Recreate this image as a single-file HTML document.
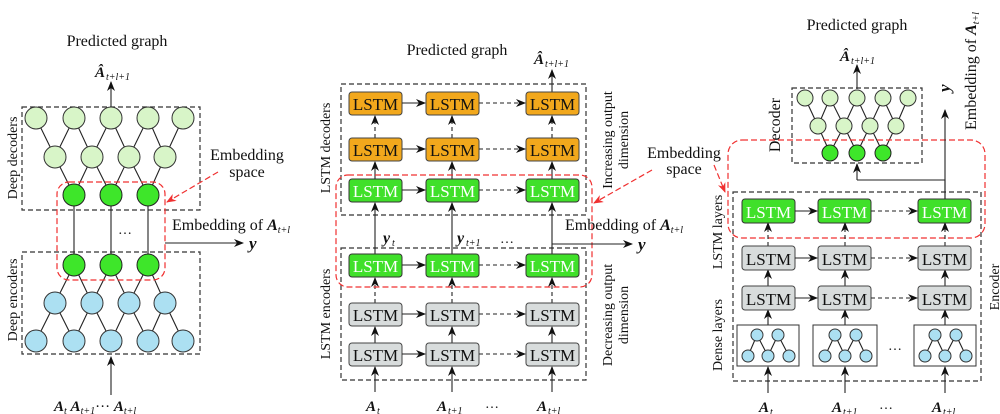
<!DOCTYPE html>
<html><head><meta charset="utf-8"><style>
html,body{margin:0;padding:0;background:#fff}
svg{display:block;font-family:"Liberation Serif","Times New Roman","DejaVu Serif",serif}
svg text{font-family:"Liberation Serif","Times New Roman","DejaVu Serif",serif;fill:#111}
.b{stroke:#333;stroke-width:1.2;fill:none;stroke-dasharray:5,3}
.r{stroke:#f03030;stroke-width:1.2;fill:none;stroke-dasharray:6,3}
.l{stroke:#222;stroke-width:1.1;fill:none}
.ld{stroke:#222;stroke-width:1.1;fill:none;stroke-dasharray:4,3}
.cd{fill:#d8f5c8;stroke:#333;stroke-width:1}
.cg{fill:#3ee62a;stroke:#222;stroke-width:1}
.cb{fill:#ace0f2;stroke:#333;stroke-width:1}
.o{fill:#f2a81c;stroke:#444;stroke-width:1}
.g{fill:#40e02a;stroke:#333;stroke-width:1}
.y{fill:#d8dcdc;stroke:#444;stroke-width:1}
.t{font-size:17px}
svg text.tw{font-size:17px;fill:#fff}
.bi{font-weight:bold;font-style:italic}
</style></head><body>
<svg width="1000" height="414" viewBox="0 0 1000 414" xmlns="http://www.w3.org/2000/svg" font-family="Liberation Serif, serif">
<defs>
<marker id="a" markerWidth="10" markerHeight="8" refX="9" refY="4" orient="auto" markerUnits="userSpaceOnUse"><path d="M0,0 L10,4 L0,8 L3,4 z" fill="#111"/></marker>
<marker id="ar" markerWidth="10" markerHeight="8" refX="9" refY="4" orient="auto" markerUnits="userSpaceOnUse"><path d="M0,0 L10,4 L0,8 L3,4 z" fill="#f03030"/></marker>
</defs>

<!-- ============ PANEL 1 ============ -->
<text x="117" y="46" font-size="16" text-anchor="middle">Predicted graph</text>
<text x="95" y="77" font-size="15" class="bi">Â</text><text x="106" y="80" font-size="10" font-style="italic">t+l+1</text>
<line x1="111" y1="107" x2="111" y2="82" class="l" marker-end="url(#a)"/>
<rect x="22" y="107" width="178" height="103" class="b"/>
<rect x="22" y="252" width="178" height="102" class="b"/>
<g class="l">
<path d="M36,118 L55,157 L74,118 L92,157 L111,118 L129,157 L148,118 L165,157 L183,118"/>
<path d="M55,157 L74,195 L92,157 L111,195 L129,157 L148,195 L165,157"/>
<path d="M74,195 V265 M111,195 V265 M148,195 V265"/>
<path d="M55,303 L74,265 L92,303 L111,265 L129,303 L148,265 L165,303"/>
<path d="M36,341 L55,303 L74,341 L92,303 L111,341 L129,303 L148,341 L165,303 L183,341"/>
</g>
<g class="cd"><circle cx="36" cy="118" r="11"/><circle cx="74" cy="118" r="11"/><circle cx="111" cy="118" r="11"/><circle cx="148" cy="118" r="11"/><circle cx="183" cy="118" r="11"/>
<circle cx="55" cy="157" r="11"/><circle cx="92" cy="157" r="11"/><circle cx="129" cy="157" r="11"/><circle cx="165" cy="157" r="11"/></g>
<g class="cg"><circle cx="74" cy="195" r="11"/><circle cx="111" cy="195" r="11"/><circle cx="148" cy="195" r="11"/>
<circle cx="74" cy="265" r="11"/><circle cx="111" cy="265" r="11"/><circle cx="148" cy="265" r="11"/></g>
<g class="cb"><circle cx="55" cy="303" r="11"/><circle cx="92" cy="303" r="11"/><circle cx="129" cy="303" r="11"/><circle cx="165" cy="303" r="11"/>
<circle cx="36" cy="341" r="11"/><circle cx="74" cy="341" r="11"/><circle cx="111" cy="341" r="11"/><circle cx="148" cy="341" r="11"/><circle cx="183" cy="341" r="11"/></g>
<rect x="57" y="182" width="108" height="98" rx="12" class="r"/>
<text x="125" y="234" font-size="14" text-anchor="middle">…</text>
<text x="247" y="160" font-size="16" text-anchor="middle">Embedding</text>
<text x="247" y="177" font-size="16" text-anchor="middle">space</text>
<line x1="218" y1="172" x2="167" y2="202" class="r" marker-end="url(#ar)"/>
<text x="172" y="230" font-size="16">Embedding of <tspan class="bi">A</tspan><tspan font-size="10" font-style="italic" dy="3">t+l</tspan></text>
<line x1="165" y1="243" x2="243" y2="243" class="l" marker-end="url(#a)"/>
<text x="249" y="249" font-size="17" class="bi">y</text>
<text transform="translate(17,158) rotate(-90)" font-size="14" text-anchor="middle">Deep decoders</text>
<text transform="translate(17,300) rotate(-90)" font-size="14" text-anchor="middle">Deep encoders</text>
<line x1="111" y1="395" x2="111" y2="357" class="l" marker-end="url(#a)"/>
<text x="54" y="411" font-size="15"><tspan class="bi">A</tspan><tspan font-size="10" font-style="italic" dy="3">t</tspan><tspan dy="-3"> </tspan><tspan class="bi">A</tspan><tspan font-size="10" font-style="italic" dy="3">t+1</tspan><tspan dy="-3">··· </tspan><tspan class="bi">A</tspan><tspan font-size="10" font-style="italic" dy="3">t+l</tspan></text>

<!-- ============ PANEL 2 ============ -->
<text x="457" y="55" font-size="16" text-anchor="middle">Predicted graph</text>
<text x="534" y="64" font-size="15" class="bi">Â</text><text x="545" y="67" font-size="10" font-style="italic">t+l+1</text>
<line x1="552" y1="92" x2="552" y2="70" class="l" marker-end="url(#a)"/>
<rect x="341" y="84" width="245" height="131" class="b"/>
<rect x="341" y="248" width="245" height="132" class="b"/>
<g>
<line x1="375" y1="138" x2="375" y2="116" class="ld" marker-end="url(#a)"/>
<line x1="452" y1="138" x2="452" y2="116" class="ld" marker-end="url(#a)"/>
<line x1="552" y1="138" x2="552" y2="116" class="ld" marker-end="url(#a)"/>
<line x1="375" y1="179" x2="375" y2="162" class="l" marker-end="url(#a)"/>
<line x1="452" y1="179" x2="452" y2="162" class="l" marker-end="url(#a)"/>
<line x1="552" y1="179" x2="552" y2="162" class="l" marker-end="url(#a)"/>
<line x1="375" y1="254" x2="375" y2="203" class="l" marker-end="url(#a)"/>
<line x1="452" y1="254" x2="452" y2="203" class="l" marker-end="url(#a)"/>
<line x1="552" y1="254" x2="552" y2="203" class="l" marker-end="url(#a)"/>
<line x1="375" y1="303" x2="375" y2="278" class="ld" marker-end="url(#a)"/>
<line x1="452" y1="303" x2="452" y2="278" class="ld" marker-end="url(#a)"/>
<line x1="552" y1="303" x2="552" y2="278" class="ld" marker-end="url(#a)"/>
<line x1="375" y1="343" x2="375" y2="327" class="l" marker-end="url(#a)"/>
<line x1="452" y1="343" x2="452" y2="327" class="l" marker-end="url(#a)"/>
<line x1="552" y1="343" x2="552" y2="327" class="l" marker-end="url(#a)"/>
<line x1="375" y1="392" x2="375" y2="367" class="l" marker-end="url(#a)"/>
<line x1="452" y1="392" x2="452" y2="367" class="l" marker-end="url(#a)"/>
<line x1="552" y1="392" x2="552" y2="367" class="l" marker-end="url(#a)"/>
</g>
<g>
<rect x="349" y="92" width="53" height="23" rx="3" class="o"/><rect x="426" y="92" width="53" height="23" rx="3" class="o"/><rect x="526" y="92" width="53" height="23" rx="3" class="o"/>
<rect x="349" y="138" width="53" height="23" rx="3" class="o"/><rect x="426" y="138" width="53" height="23" rx="3" class="o"/><rect x="526" y="138" width="53" height="23" rx="3" class="o"/>
<rect x="349" y="179" width="53" height="23" rx="3" class="g"/><rect x="426" y="179" width="53" height="23" rx="3" class="g"/><rect x="526" y="179" width="53" height="23" rx="3" class="g"/>
<rect x="349" y="254" width="53" height="23" rx="3" class="g"/><rect x="426" y="254" width="53" height="23" rx="3" class="g"/><rect x="526" y="254" width="53" height="23" rx="3" class="g"/>
<rect x="349" y="303" width="53" height="23" rx="3" class="y"/><rect x="426" y="303" width="53" height="23" rx="3" class="y"/><rect x="526" y="303" width="53" height="23" rx="3" class="y"/>
<rect x="349" y="343" width="53" height="23" rx="3" class="y"/><rect x="426" y="343" width="53" height="23" rx="3" class="y"/><rect x="526" y="343" width="53" height="23" rx="3" class="y"/>
</g>
<g text-anchor="middle">
<text x="375.5" y="110" class="t">LSTM</text><text x="452.5" y="110" class="t">LSTM</text><text x="552.5" y="110" class="t">LSTM</text>
<text x="375.5" y="156" class="t">LSTM</text><text x="452.5" y="156" class="t">LSTM</text><text x="552.5" y="156" class="t">LSTM</text>
<text x="375.5" y="197" class="tw">LSTM</text><text x="452.5" y="197" class="tw">LSTM</text><text x="552.5" y="197" class="tw">LSTM</text>
<text x="375.5" y="272" class="tw">LSTM</text><text x="452.5" y="272" class="tw">LSTM</text><text x="552.5" y="272" class="tw">LSTM</text>
<text x="375.5" y="321" class="t">LSTM</text><text x="452.5" y="321" class="t">LSTM</text><text x="552.5" y="321" class="t">LSTM</text>
<text x="375.5" y="361" class="t">LSTM</text><text x="452.5" y="361" class="t">LSTM</text><text x="552.5" y="361" class="t">LSTM</text>
</g>
<g>
<line x1="402" y1="103" x2="425" y2="103" class="l" marker-end="url(#a)"/><line x1="479" y1="103" x2="525" y2="103" class="ld" marker-end="url(#a)"/>
<line x1="402" y1="149" x2="425" y2="149" class="l" marker-end="url(#a)"/><line x1="479" y1="149" x2="525" y2="149" class="ld" marker-end="url(#a)"/>
<line x1="402" y1="190" x2="425" y2="190" class="l" marker-end="url(#a)"/><line x1="479" y1="190" x2="525" y2="190" class="ld" marker-end="url(#a)"/>
<line x1="402" y1="265" x2="425" y2="265" class="l" marker-end="url(#a)"/><line x1="479" y1="265" x2="525" y2="265" class="ld" marker-end="url(#a)"/>
<line x1="402" y1="314" x2="425" y2="314" class="l" marker-end="url(#a)"/><line x1="479" y1="314" x2="525" y2="314" class="ld" marker-end="url(#a)"/>
<line x1="402" y1="354" x2="425" y2="354" class="l" marker-end="url(#a)"/><line x1="479" y1="354" x2="525" y2="354" class="ld" marker-end="url(#a)"/>
</g>
<rect x="336" y="175" width="256" height="112" rx="12" class="r"/>
<text x="383" y="243" font-size="16" class="bi">y</text><text x="392" y="246" font-size="10" font-style="italic">t</text>
<text x="457" y="243" font-size="16" class="bi">y</text><text x="466" y="246" font-size="10" font-style="italic">t+1</text>
<text x="500" y="243" font-size="14">…</text>
<text x="565" y="230" font-size="16">Embedding of <tspan class="bi">A</tspan><tspan font-size="10" font-style="italic" dy="3">t+l</tspan></text>
<line x1="552" y1="244" x2="632" y2="244" class="l" marker-end="url(#a)"/>
<text x="638" y="250" font-size="17" class="bi">y</text>
<text transform="translate(330,148) rotate(-90)" font-size="14" text-anchor="middle">LSTM decoders</text>
<text transform="translate(330,314) rotate(-90)" font-size="14" text-anchor="middle">LSTM encoders</text>
<text transform="translate(612,140) rotate(-90)" font-size="14" text-anchor="middle">Increasing output</text>
<text transform="translate(628,140) rotate(-90)" font-size="14" text-anchor="middle">dimension</text>
<text transform="translate(612,315) rotate(-90)" font-size="14" text-anchor="middle">Decreasing output</text>
<text transform="translate(628,315) rotate(-90)" font-size="14" text-anchor="middle">dimension</text>
<text x="366" y="411" font-size="15" class="bi">A</text><text x="377" y="414" font-size="10" font-style="italic">t</text>
<text x="437" y="411" font-size="15" class="bi">A</text><text x="448" y="414" font-size="10" font-style="italic">t+1</text>
<text x="485" y="408" font-size="14">…</text>
<text x="537" y="411" font-size="15" class="bi">A</text><text x="548" y="414" font-size="10" font-style="italic">t+l</text>

<text x="684" y="158" font-size="16" text-anchor="middle">Embedding</text>
<text x="684" y="174" font-size="16" text-anchor="middle">space</text>
<line x1="652" y1="170" x2="594" y2="203" class="r" marker-end="url(#ar)"/>
<line x1="714" y1="165" x2="725" y2="192" class="r" marker-end="url(#ar)"/>

<!-- ============ PANEL 3 ============ -->
<text x="857" y="30" font-size="16" text-anchor="middle">Predicted graph</text>
<text x="840" y="61" font-size="15" class="bi">Â</text><text x="851" y="64" font-size="10" font-style="italic">t+l+1</text>
<line x1="857" y1="89" x2="857" y2="65" class="l" marker-end="url(#a)"/>
<rect x="792" y="88" width="130" height="75" class="b"/>
<g class="l">
<path d="M805,98 L818,126 L830,98 L844,126 L857,98 L870,126 L883,98 L896,126 L908,98"/>
<path d="M818,126 L830,153 L844,126 L857,153 L870,126 L883,153 L896,126"/>
</g>
<g class="cd"><circle cx="805" cy="98" r="8"/><circle cx="830" cy="98" r="8"/><circle cx="857" cy="98" r="8"/><circle cx="883" cy="98" r="8"/><circle cx="908" cy="98" r="8"/>
<circle cx="818" cy="126" r="8"/><circle cx="844" cy="126" r="8"/><circle cx="870" cy="126" r="8"/><circle cx="896" cy="126" r="8"/></g>
<g class="cg"><circle cx="830" cy="153" r="8"/><circle cx="857" cy="153" r="8"/><circle cx="883" cy="153" r="8"/></g>
<text transform="translate(780,125) rotate(-90)" font-size="16" text-anchor="middle">Decoder</text>
<rect x="733" y="192" width="248" height="189" class="b"/>
<rect x="728" y="140" width="257" height="98" rx="14" class="r"/>
<path d="M945,199 V180 H857" class="l"/>
<line x1="857" y1="180" x2="857" y2="164" class="l" marker-end="url(#a)"/>
<line x1="945" y1="199" x2="945" y2="110" class="l" marker-end="url(#a)"/>
<text transform="translate(950,92) rotate(-90)" font-size="17" class="bi">y</text>
<text transform="translate(976,130) rotate(-90)" font-size="16">Embedding of <tspan class="bi">A</tspan><tspan font-size="10" font-style="italic" dy="3">t+l</tspan></text>
<g>
<line x1="768" y1="246" x2="768" y2="223" class="ld" marker-end="url(#a)"/>
<line x1="845" y1="246" x2="845" y2="223" class="ld" marker-end="url(#a)"/>
<line x1="945" y1="246" x2="945" y2="223" class="ld" marker-end="url(#a)"/>
<line x1="768" y1="286" x2="768" y2="270" class="l" marker-end="url(#a)"/>
<line x1="845" y1="286" x2="845" y2="270" class="l" marker-end="url(#a)"/>
<line x1="945" y1="286" x2="945" y2="270" class="l" marker-end="url(#a)"/>
<line x1="768" y1="325" x2="768" y2="310" class="l" marker-end="url(#a)"/>
<line x1="845" y1="325" x2="845" y2="310" class="l" marker-end="url(#a)"/>
<line x1="945" y1="325" x2="945" y2="310" class="l" marker-end="url(#a)"/>
<line x1="768" y1="393" x2="768" y2="367" class="l" marker-end="url(#a)"/>
<line x1="845" y1="393" x2="845" y2="367" class="l" marker-end="url(#a)"/>
<line x1="945" y1="393" x2="945" y2="367" class="l" marker-end="url(#a)"/>
</g>
<g>
<rect x="742" y="199" width="53" height="24" rx="3" class="g"/><rect x="818" y="199" width="53" height="24" rx="3" class="g"/><rect x="918" y="199" width="53" height="24" rx="3" class="g"/>
<rect x="742" y="246" width="53" height="24" rx="3" class="y"/><rect x="818" y="246" width="53" height="24" rx="3" class="y"/><rect x="918" y="246" width="53" height="24" rx="3" class="y"/>
<rect x="742" y="286" width="53" height="24" rx="3" class="y"/><rect x="818" y="286" width="53" height="24" rx="3" class="y"/><rect x="918" y="286" width="53" height="24" rx="3" class="y"/>
</g>
<g text-anchor="middle">
<text x="768.5" y="218" class="tw">LSTM</text><text x="844.5" y="218" class="tw">LSTM</text><text x="944.5" y="218" class="tw">LSTM</text>
<text x="768.5" y="265" class="t">LSTM</text><text x="844.5" y="265" class="t">LSTM</text><text x="944.5" y="265" class="t">LSTM</text>
<text x="768.5" y="305" class="t">LSTM</text><text x="844.5" y="305" class="t">LSTM</text><text x="944.5" y="305" class="t">LSTM</text>
</g>
<g>
<line x1="795" y1="211" x2="817" y2="211" class="l" marker-end="url(#a)"/><line x1="871" y1="211" x2="917" y2="211" class="ld" marker-end="url(#a)"/>
<line x1="795" y1="258" x2="817" y2="258" class="l" marker-end="url(#a)"/><line x1="871" y1="258" x2="917" y2="258" class="ld" marker-end="url(#a)"/>
<line x1="795" y1="298" x2="817" y2="298" class="l" marker-end="url(#a)"/><line x1="871" y1="298" x2="917" y2="298" class="ld" marker-end="url(#a)"/>
</g>
<g>
<rect x="737" y="325" width="62" height="41" fill="#fff" stroke="#333" stroke-width="1"/>
<rect x="813" y="325" width="64" height="41" fill="#fff" stroke="#333" stroke-width="1"/>
<rect x="914" y="325" width="62" height="41" fill="#fff" stroke="#333" stroke-width="1"/>
<g class="l">
<path d="M748,356 L757,335 L768,356 L778,335 L789,356"/>
<path d="M825,356 L835,335 L845,356 L856,335 L866,356"/>
<path d="M925,356 L935,335 L945,356 L956,335 L966,356"/>
</g>
<g class="cb">
<circle cx="757" cy="335" r="6"/><circle cx="778" cy="335" r="6"/><circle cx="748" cy="356" r="6"/><circle cx="768" cy="356" r="6"/><circle cx="789" cy="356" r="6"/>
<circle cx="835" cy="335" r="6"/><circle cx="856" cy="335" r="6"/><circle cx="825" cy="356" r="6"/><circle cx="845" cy="356" r="6"/><circle cx="866" cy="356" r="6"/>
<circle cx="935" cy="335" r="6"/><circle cx="956" cy="335" r="6"/><circle cx="925" cy="356" r="6"/><circle cx="945" cy="356" r="6"/><circle cx="966" cy="356" r="6"/>
</g>
<text x="888" y="350" font-size="14">…</text>
</g>
<text transform="translate(722,232) rotate(-90)" font-size="14" text-anchor="middle">LSTM layers</text>
<text transform="translate(722,335) rotate(-90)" font-size="14" text-anchor="middle">Dense layers</text>
<text transform="translate(999,287) rotate(-90)" font-size="14" text-anchor="middle">Encoder</text>
<text x="759" y="412" font-size="15" class="bi">A</text><text x="770" y="415" font-size="10" font-style="italic">t</text>
<text x="832" y="412" font-size="15" class="bi">A</text><text x="843" y="415" font-size="10" font-style="italic">t+1</text>
<text x="879" y="409" font-size="14">…</text>
<text x="932" y="412" font-size="15" class="bi">A</text><text x="943" y="415" font-size="10" font-style="italic">t+l</text>
</svg>
</body></html>
